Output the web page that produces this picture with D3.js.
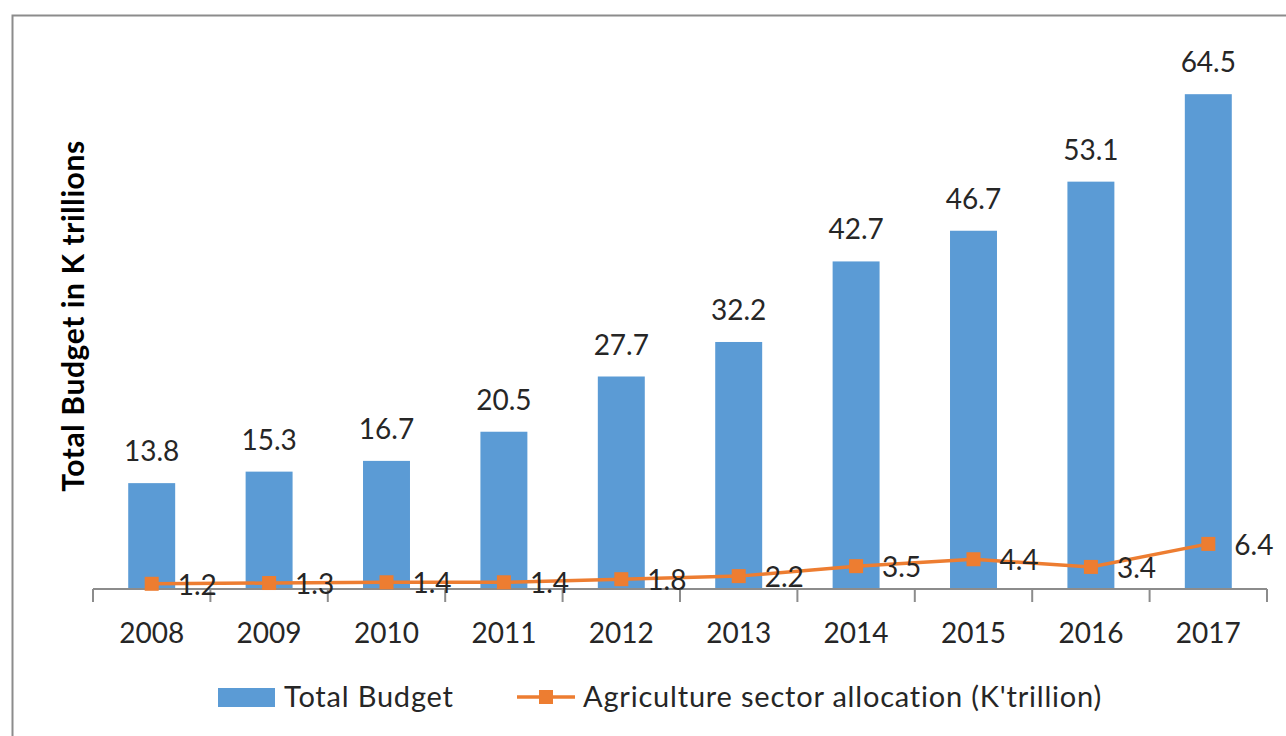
<!DOCTYPE html>
<html>
<head>
<meta charset="utf-8">
<script src="https://cdn.jsdelivr.net/npm/d3@7"></script>
<style>
  body { margin: 0; background: #fff; }
  text { font-family: Lato, "Open Sans", sans-serif; fill: #262626; }
</style>
</head>
<body>
<svg id="chart"></svg>
<script>
const width = 1286;
const height = 736;

// chart data
const years = ["2008", "2009", "2010", "2011", "2012", "2013", "2014", "2015", "2016", "2017"];
const totalBudget = [13.8, 15.3, 16.7, 20.5, 27.7, 32.2, 42.7, 46.7, 53.1, 64.5];
const agriAllocation = [1.2, 1.3, 1.4, 1.4, 1.8, 2.2, 3.5, 4.4, 3.4, 6.4];

const barColor = "#5B9BD5";
const lineColor = "#ED7D31";

const svg = d3.select("#chart")
    .attr("width", width)
    .attr("height", height);

// chart border (runs off the right and bottom edges)
svg.append("rect")
    .attr("x", 12.5).attr("y", 15.5)
    .attr("width", 1300).attr("height", 800)
    .attr("fill", "none")
    .attr("stroke", "#8c8c8c")
    .attr("stroke-width", 2);

const x = d3.scaleBand()
    .domain(years)
    .range([93, 1267])
    .paddingInner(0.6)
    .paddingOuter(0.3);

const y = d3.scaleLinear()
    .domain([0, 70])
    .range([589, 52]);

// line series sits on its own (secondary) axis, slightly offset
const y2 = d3.scaleLinear()
    .domain([0, 70])
    .range([593, 56]);

// bars
svg.selectAll("rect.bar")
    .data(years)
    .enter()
    .append("rect")
    .attr("class", "bar")
    .attr("x", d => x(d))
    .attr("y", (d, i) => y(totalBudget[i]))
    .attr("width", x.bandwidth())
    .attr("height", (d, i) => y(0) - y(totalBudget[i]))
    .attr("fill", barColor);

// bar labels
svg.selectAll("text.barlabel")
    .data(years)
    .enter()
    .append("text")
    .attr("class", "barlabel")
    .attr("x", d => x(d) + x.bandwidth() / 2)
    .attr("y", (d, i) => y(totalBudget[i]) - 22)
    .attr("text-anchor", "middle")
    .attr("font-size", 28)
    .text((d, i) => totalBudget[i].toFixed(1));

// x axis
const xAxisScale = d3.scaleBand().domain(years).range([93, 1267]);
const xAxis = svg.append("g")
    .attr("transform", `translate(0,${y(0)})`)
    .call(d3.axisBottom(xAxisScale).tickSize(0).tickPadding(34));
xAxis.select(".domain").attr("stroke", "#8c8c8c").attr("stroke-width", 2)
    .attr("d", "M93,0H1267");
xAxis.selectAll("text").attr("font-size", 28).attr("fill", "#262626")
    .style("font-family", "Lato, sans-serif");

// ticks between categories
const bounds = d3.range(years.length + 1).map(i => 93 + i * xAxisScale.step());
svg.selectAll("line.tick")
    .data(bounds)
    .enter()
    .append("line")
    .attr("x1", d => d).attr("x2", d => d)
    .attr("y1", y(0)).attr("y2", y(0) + 13)
    .attr("stroke", "#8c8c8c")
    .attr("stroke-width", 2);

// agriculture line
const cx = d => x(d) + x.bandwidth() / 2;
const line = d3.line()
    .x((d, i) => cx(years[i]))
    .y(d => y2(d));

svg.append("path")
    .datum(agriAllocation)
    .attr("d", line)
    .attr("fill", "none")
    .attr("stroke", lineColor)
    .attr("stroke-width", 3.5);

svg.selectAll("rect.marker")
    .data(agriAllocation)
    .enter()
    .append("rect")
    .attr("class", "marker")
    .attr("x", (d, i) => cx(years[i]) - 7)
    .attr("y", d => y2(d) - 7)
    .attr("width", 14).attr("height", 14)
    .attr("fill", lineColor);

svg.selectAll("text.linelabel")
    .data(agriAllocation)
    .enter()
    .append("text")
    .attr("class", "linelabel")
    .attr("x", (d, i) => cx(years[i]) + 26)
    .attr("y", d => y2(d) + 11)
    .attr("font-size", 28)
    .text(d => d.toFixed(1));

// y axis title
svg.append("text")
    .attr("transform", "translate(84,316) rotate(-90)")
    .attr("text-anchor", "middle")
    .attr("font-size", 30)
    .attr("font-weight", "bold")
    .attr("letter-spacing", 0.6)
    .style("fill", "#000")
    .text("Total Budget in K trillions");

// legend
const legend = svg.append("g");
legend.append("rect")
    .attr("x", 218).attr("y", 688)
    .attr("width", 57).attr("height", 19)
    .attr("fill", barColor);
legend.append("text")
    .attr("x", 284).attr("y", 707)
    .attr("font-size", 29)
    .attr("letter-spacing", 0.8)
    .text("Total Budget");
legend.append("line")
    .attr("x1", 517).attr("x2", 575)
    .attr("y1", 697).attr("y2", 697)
    .attr("stroke", lineColor)
    .attr("stroke-width", 3.5);
legend.append("rect")
    .attr("x", 539).attr("y", 690)
    .attr("width", 14).attr("height", 14)
    .attr("fill", lineColor);
legend.append("text")
    .attr("x", 583).attr("y", 707)
    .attr("font-size", 29)
    .attr("letter-spacing", 0.8)
    .text("Agriculture sector allocation (K'trillion)");
</script>
</body>
</html>
